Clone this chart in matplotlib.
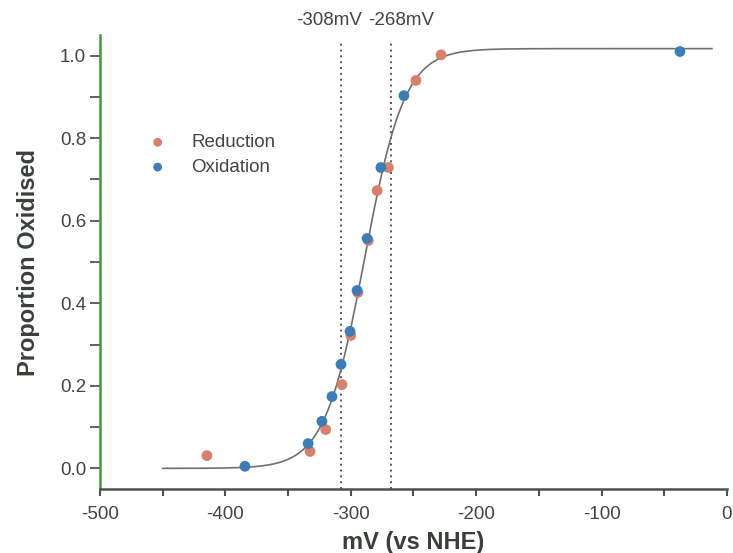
import numpy as np
import matplotlib
matplotlib.use("Agg")
import matplotlib.pyplot as plt
from matplotlib.ticker import MultipleLocator

plt.rcParams['font.family'] = ['Liberation Sans', 'DejaVu Sans']
plt.rcParams['axes.unicode_minus'] = False

# Redox titration data: potential (mV vs NHE) and fraction oxidised
red_mv = [-414.7, -332.5, -320.0, -307.0, -300.0, -294.3, -286.0, -279.0, -270.0, -248.0, -228.0]
red_frac = [0.031, 0.041, 0.094, 0.203, 0.322, 0.426, 0.552, 0.673, 0.729, 0.940, 1.002]

ox_mv = [-384.4, -334.0, -323.0, -315.0, -307.8, -300.6, -295.0, -287.0, -276.0, -257.6, -37.5]
ox_frac = [0.005, 0.060, 0.114, 0.174, 0.252, 0.332, 0.431, 0.557, 0.729, 0.903, 1.010]

# Fitted Nernst-type curve parameters
fit_top = 1.017
fit_mid = -289.0
fit_width = 16.0
fit_start, fit_end = -450.0, -12.0

# Marked potentials
marks_mv = [-308, -268]

fig = plt.figure(figsize=(7.33, 5.53), dpi=100)
ax = fig.add_axes([0.1364, 0.1157, 0.8554, 0.8210])

xfit = np.linspace(fit_start, fit_end, 400)
yfit = fit_top / (1.0 + np.exp(-(xfit - fit_mid) / fit_width))
ax.plot(xfit, yfit, color='#707070', lw=1.2, zorder=2)

for m in marks_mv:
    ax.plot([m, m], [-0.05, 1.03], color='#555555', lw=1.4,
            linestyle=(0, (1, 2.0)), zorder=1, clip_on=False)

ax.scatter(red_mv, red_frac, s=60, color='#d9806a', edgecolors='none', zorder=3)
ax.scatter(ox_mv, ox_frac, s=60, color='#3b7db8', edgecolors='none', zorder=4)

# Labels above the marker lines
ax.text(marks_mv[0] + 17, 1.085, f"{marks_mv[0]}mV", ha='right', va='center',
        fontsize=13.5, color='#444444', clip_on=False)
ax.text(marks_mv[1] - 18.5, 1.085, f"{marks_mv[1]}mV", ha='left', va='center',
        fontsize=13.5, color='#444444', clip_on=False)

# Legend
ax.scatter([-454], [0.79], s=40, color='#d9806a', edgecolors='none', clip_on=False)
ax.scatter([-454], [0.73], s=40, color='#3b7db8', edgecolors='none', clip_on=False)
ax.text(-427, 0.79, "Reduction", ha='left', va='center', fontsize=13.5, color='#444444')
ax.text(-427, 0.73, "Oxidation", ha='left', va='center', fontsize=13.5, color='#444444')

ax.set_xlim(-500, 0)
ax.set_ylim(-0.05, 1.05)

ax.xaxis.set_major_locator(MultipleLocator(100))
ax.xaxis.set_minor_locator(MultipleLocator(50))
ax.yaxis.set_major_locator(MultipleLocator(0.2))
ax.yaxis.set_minor_locator(MultipleLocator(0.1))
ax.yaxis.set_major_formatter(matplotlib.ticker.FormatStrFormatter('%.1f'))

for s in ['top', 'right']:
    ax.spines[s].set_visible(False)
ax.spines['left'].set_color('#3f9a3a')
ax.spines['left'].set_linewidth(1.8)
ax.spines['bottom'].set_color('#4a5548')
ax.spines['bottom'].set_linewidth(1.8)

ax.tick_params(axis='y', which='both', direction='out', length=7, width=1.3,
               color='#555555', labelsize=13.5, labelcolor='#444444', pad=3)
ax.tick_params(axis='x', which='both', direction='out', length=5, width=1.5,
               color='#4a5548', labelsize=13.5, labelcolor='#444444', pad=7)

ax.set_xlabel("mV (vs NHE)", fontsize=17, fontweight='bold', color='#3a3f3a', labelpad=6)
ax.set_ylabel("Proportion Oxidised", fontsize=17, fontweight='bold', color='#3a3f3a', labelpad=14)

fig.savefig("out.png", dpi=100)
